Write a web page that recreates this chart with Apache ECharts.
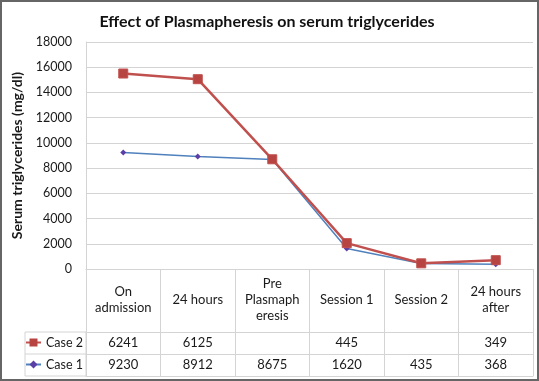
<!DOCTYPE html>
<html>
<head>
<meta charset="utf-8">
<script src="https://cdn.jsdelivr.net/npm/echarts@6/dist/echarts.min.js"></script>
<style>
html,body{margin:0;padding:0;background:#fff;}
#wrap{position:relative;width:539px;height:381px;}
#chart{position:absolute;left:0;top:0;width:539px;height:381px;}
#frame{position:absolute;left:0;top:0;width:539px;height:381px;box-sizing:border-box;border:2px solid #666;pointer-events:none;}
</style>
</head>
<body>
<div id="wrap"><div id="chart"></div><div id="frame"></div></div>
<script>
// Data
const categories = ['On\nadmission', '24 hours', 'Pre\nPlasmaph\neresis', 'Session 1', 'Session 2', '24 hours\nafter'];
const case2Values = [15500, 15050, 8700, 2050, 450, 700];
const case1Values = [9230, 8912, 8675, 1620, 435, 368];
const case2TableLabels = ['6241', '6125', '', '445', '', '349'];
const case1TableLabels = ['9230', '8912', '8675', '1620', '435', '368'];
const yTicks = { min: 0, max: 18000, interval: 2000 };

const FONT = 'Lato, "Open Sans", sans-serif';
const gridLine = '#d4d4d4';
const textColor = '#1a1a1a';

const chart = echarts.init(document.getElementById('chart'));

function rowAxis(offset, labels, showLabel) {
  return {
    type: 'category',
    data: categories,
    position: 'bottom',
    offset: offset,
    boundaryGap: true,
    axisLine: { show: true, lineStyle: { color: gridLine, width: 1 } },
    axisTick: { show: false },
    splitLine: { show: false },
    axisLabel: {
      show: showLabel,
      interval: 0,
      margin: 11,
      verticalAlign: 'middle',
      color: textColor,
      fontFamily: FONT,
      fontSize: 13,
      formatter: function (v, i) { return labels ? labels[i] : ''; }
    }
  };
}

function legendRow(name, top) {
  return {
    data: [name],
    orient: 'horizontal',
    left: 25,
    top: top,
    padding: 0,
    itemWidth: 15,
    itemHeight: 10,
    textStyle: { fontFamily: FONT, fontSize: 12.5, color: textColor }
  };
}

chart.setOption({
  animation: false,
  title: {
    text: 'Effect of Plasmapheresis on serum triglycerides',
    left: 262,
    textAlign: 'center',
    top: 9,
    textStyle: { fontFamily: FONT, fontSize: 16, fontWeight: 'bold', color: '#111' }
  },
  grid: { left: 86, right: 6, top: 42, bottom: 112, containLabel: false },
  legend: [legendRow('Case 2', 336), legendRow('Case 1', 358)],
  xAxis: [
    {
      type: 'category',
      data: categories,
      boundaryGap: true,
      axisLine: { show: true, lineStyle: { color: gridLine, width: 1 } },
      axisTick: { show: true, interval: 0, length: 107, lineStyle: { color: gridLine } },
      axisLabel: {
        interval: 0,
        margin: 31,
        verticalAlign: 'middle',
        lineHeight: 16,
        color: textColor,
        fontFamily: FONT,
        fontSize: 13
      }
    },
    rowAxis(63, case2TableLabels, true),
    rowAxis(85, case1TableLabels, true),
    rowAxis(107, null, false)
  ],
  yAxis: {
    type: 'value',
    min: yTicks.min,
    max: yTicks.max,
    interval: yTicks.interval,
    name: 'Serum triglycerides (mg/dl)',
    nameLocation: 'middle',
    nameGap: 56,
    nameTextStyle: { fontFamily: FONT, fontSize: 14, fontWeight: 'bold', color: textColor },
    axisLine: { show: true, lineStyle: { color: gridLine } },
    axisTick: { show: false },
    splitLine: { lineStyle: { color: gridLine } },
    axisLabel: {
      margin: 14, color: textColor, fontFamily: FONT, fontSize: 12.5,
      formatter: function (v) { return String(v); }
    }
  },
  graphic: [
    { type: 'rect', shape: { x: 25, y: 332, width: 61, height: 44 }, style: { fill: 'none', stroke: gridLine, lineWidth: 1 } },
    { type: 'line', shape: { x1: 25, y1: 354, x2: 86, y2: 354 }, style: { stroke: gridLine, lineWidth: 1 } }
  ],
  series: [
    {
      name: 'Case 1',
      type: 'line',
      data: case1Values,
      symbol: 'diamond',
      symbolSize: 6,
      lineStyle: { color: '#4f81bd', width: 1.5 },
      itemStyle: { color: '#5b3fa6' },
      z: 2
    },
    {
      name: 'Case 2',
      type: 'line',
      data: case2Values,
      symbol: 'rect',
      symbolSize: 9,
      lineStyle: { color: '#c0504d', width: 2.5 },
      itemStyle: { color: '#b84441', borderColor: '#c0504d' },
      z: 3
    }
  ]
});
</script>
</body>
</html>
